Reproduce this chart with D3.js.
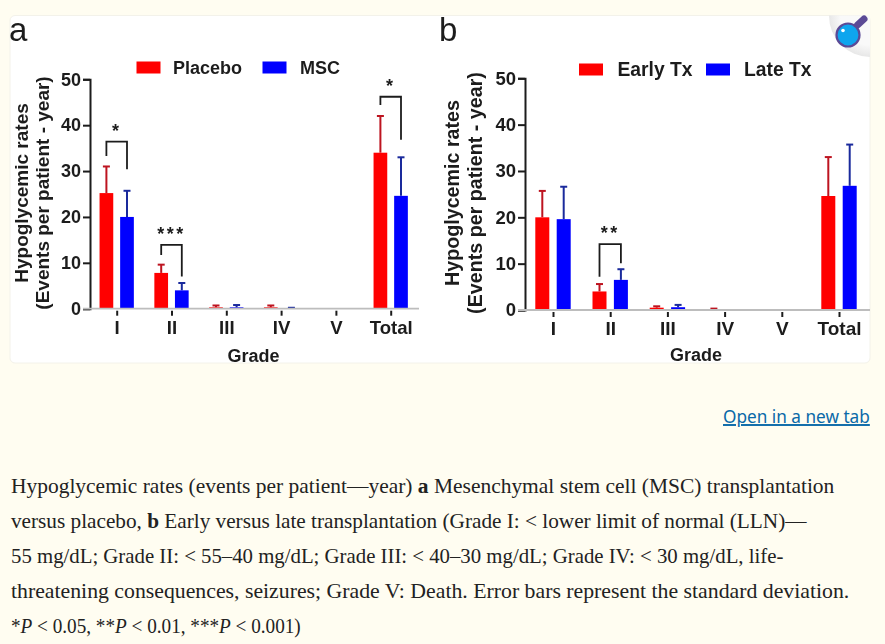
<!DOCTYPE html>
<html>
<head>
<meta charset="utf-8">
<script src="https://cdn.jsdelivr.net/npm/d3@7"></script>
<style>
  html, body { margin: 0; padding: 0; background: #fffdf1; overflow: hidden; }
  svg { display: block; }
  text { font-family: "Liberation Sans", Arial, sans-serif; fill: #1c1c1c; }
  .panel { filter: blur(0.4px); }
  .tick-label, .axis-title, .legend-label { font-weight: bold; }
  text.caption-line { font-family: "Liberation Serif", serif; font-size: 22px; fill: #222; }
</style>
</head>
<body>
<div id="chart"></div>
<script>
const grades = ["I", "II", "III", "IV", "V", "Total"];
const yTicks = [0, 10, 20, 30, 40, 50];

// panel a
const placeboMean = [25.2, 7.8, 0.3, 0.3, 0, 34];
const placeboTop = [31, 9.6, 0.7, 0.7, 0, 42];
const mscMean = [20, 4, 0.3, 0.1, 0, 24.6];
const mscTop = [25.7, 5.6, 0.8, 0.2, 0, 33];
const bracketsA = [
  { grade: "I", top: 36.4, left: 33.3, right: 30.4, label: "*" },
  { grade: "II", top: 13.9, left: 11.7, right: 7, label: "***" },
  { grade: "Total", top: 46.2, left: 44.4, right: 36.8, label: "*" }
];

// panel b
const earlyMean = [20, 4, 0.5, 0.2, 0, 24.6];
const earlyTop = [25.7, 5.6, 0.8, 0.3, 0, 33];
const lateMean = [19.6, 6.5, 0.6, 0, 0, 26.8];
const lateTop = [26.6, 8.8, 1.1, 0, 0, 35.7];
const bracketsB = [
  { grade: "II", top: 14.2, left: 7.2, right: 10.1, label: "**" }
];

const captionLines = [
  [["Hypoglycemic rates (events per patient—year) "], ["a", "b"], [" Mesenchymal stem cell (MSC) transplantation"]],
  [["versus placebo, "], ["b", "b"], [" Early versus late transplantation (Grade I: < lower limit of normal (LLN)—"]],
  [["55 mg/dL; Grade II: < 55–40 mg/dL; Grade III: < 40–30 mg/dL; Grade IV: < 30 mg/dL, life-"]],
  [["threatening consequences, seizures; Grade V: Death. Error bars represent the standard deviation."]],
  [["*"], ["P", "i"], [" < 0.05, **"], ["P", "i"], [" < 0.01, ***"], ["P", "i"], [" < 0.001)"]]
];
const captionWidths = [824, 796, 773, 839, 290];

const RED = "#ff0000", BLUE = "#0000ff";
const RED_ERR = "#bd1420", BLUE_ERR = "#1a2a9c";
const SANS = '"Liberation Sans", Arial, sans-serif';

const svg = d3.select("#chart").append("svg")
  .attr("width", 885)
  .attr("height", 644);

// card behind both panels
svg.append("rect")
  .attr("x", 10).attr("y", 15.5)
  .attr("width", 860).attr("height", 347.5)
  .attr("rx", 5)
  .attr("fill", "#ffffff")
  .attr("stroke", "#f3f2ea");

function drawPanel(cfg) {
  const g = svg.append("g").attr("class", "panel");

  const x = d3.scalePoint().domain(grades).range(cfg.xRange);
  const y = d3.scaleLinear().domain([0, 50]).range(cfg.yRange);
  const off = d3.scalePoint().domain([0, 1]).range([-cfg.barOffset, cfg.barOffset]);

  cfg.series.forEach((s, si) => {
    const rows = grades
      .map((grade, i) => ({ grade, mean: s.mean[i], top: s.top[i] }))
      .filter(d => d.mean > 0);

    const cx = d => x(d.grade) + off(si);

    g.selectAll(null).data(rows).join("line")
      .attr("x1", cx).attr("x2", cx)
      .attr("y1", d => y(d.mean)).attr("y2", d => y(d.top))
      .attr("stroke", s.errColor).attr("stroke-width", 2);

    g.selectAll(null).data(rows).join("line")
      .attr("x1", d => cx(d) - 3.5).attr("x2", d => cx(d) + 3.5)
      .attr("y1", d => y(d.top)).attr("y2", d => y(d.top))
      .attr("stroke", s.errColor).attr("stroke-width", 2);

    g.selectAll(null).data(rows).join("rect")
      .attr("x", d => cx(d) - cfg.barWidth / 2)
      .attr("width", cfg.barWidth)
      .attr("y", d => y(d.mean))
      .attr("height", d => y(0) - y(d.mean))
      .attr("fill", s.color);
  });

  // y axis
  const yAxis = g.append("g")
    .attr("transform", `translate(${cfg.axisX},0)`)
    .call(d3.axisLeft(y).tickValues(yTicks).tickSize(7).tickPadding(2));
  yAxis.selectAll("path, line").attr("stroke", "#1c1c1c").attr("stroke-width", 2);
  yAxis.selectAll("text")
    .attr("class", "tick-label")
    .style("font-size", cfg.tickSize + "px")
    .style("font-family", SANS);

  // x axis, the baseline is paler than the ticks in the source
  const xAxis = g.append("g")
    .attr("transform", `translate(0,${y(0)})`)
    .call(d3.axisBottom(x).tickSize(0).tickPadding(12));
  xAxis.select("path").remove();
  xAxis.append("line")
    .attr("x1", cfg.baseline[0]).attr("x2", cfg.baseline[1])
    .attr("stroke", "#bdbdbd").attr("stroke-width", 1.8);
  xAxis.selectAll(".tick line")
    .attr("y1", 2).attr("y2", 7)
    .attr("stroke", "#1c1c1c").attr("stroke-width", 2);
  xAxis.selectAll("text")
    .attr("class", "tick-label")
    .attr("fill", "#1c1c1c")
    .style("font-size", cfg.xTickSize + "px")
    .style("font-family", SANS);

  // significance brackets
  cfg.brackets.forEach(b => {
    const x0 = x(b.grade) + off(0);
    const x1 = x(b.grade) + off(1);
    g.append("path")
      .attr("d", `M${x0},${y(b.left)}V${y(b.top)}H${x1}V${y(b.right)}`)
      .attr("fill", "none")
      .attr("stroke", "#1c1c1c")
      .attr("stroke-width", 1.8);
    g.append("text")
      .attr("x", (x0 + x1) / 2)
      .attr("y", y(b.top) - 5)
      .attr("text-anchor", "middle")
      .style("font-size", "18px")
      .style("font-weight", "bold")
      .attr("letter-spacing", 2.5)
      .text(b.label);
  });

  // legend
  cfg.legend.forEach(l => {
    g.append("rect")
      .attr("x", l.x).attr("y", cfg.legendY - 6)
      .attr("width", 24).attr("height", 12)
      .attr("fill", l.color);
    g.append("text")
      .attr("class", "legend-label")
      .attr("x", l.textX).attr("y", cfg.legendY)
      .attr("dy", "0.35em")
      .style("font-size", cfg.legendSize + "px")
      .text(l.label);
  });

  // axis titles
  const yTitle = g.append("text")
    .attr("class", "axis-title")
    .attr("transform", `translate(${cfg.titleX},${cfg.titleY}) rotate(-90)`)
    .attr("text-anchor", "middle")
    .style("font-size", cfg.titleSize + "px");
  yTitle.append("tspan").attr("x", 0).attr("y", 0).text("Hypoglycemic rates");
  yTitle.append("tspan").attr("x", 0).attr("y", cfg.titleGap).text("(Events per patient - year)");

  g.append("text")
    .attr("class", "axis-title")
    .attr("x", cfg.gradeX).attr("y", cfg.gradeY)
    .attr("dy", "0.35em")
    .attr("text-anchor", "middle")
    .style("font-size", "18px")
    .text("Grade");

  g.append("text")
    .attr("x", cfg.letterX).attr("y", 41)
    .style("font-size", "33px")
    .text(cfg.letter);
}

drawPanel({
  letter: "a", letterX: 9,
  xRange: [116.7, 390.7], yRange: [308.7, 79.3],
  barOffset: 10.3, barWidth: 13.7, axisX: 90, baseline: [83, 419],
  series: [
    { mean: placeboMean, top: placeboTop, color: RED, errColor: RED_ERR },
    { mean: mscMean, top: mscTop, color: BLUE, errColor: BLUE_ERR }
  ],
  brackets: bracketsA,
  legendY: 67.5, legendSize: 18,
  legend: [
    { x: 136.5, textX: 173, label: "Placebo", color: RED },
    { x: 262.5, textX: 300, label: "MSC", color: BLUE }
  ],
  tickSize: 18, xTickSize: 18.6,
  titleX: 28, titleY: 193, titleGap: 21, titleSize: 19,
  gradeX: 253.5, gradeY: 356
});

drawPanel({
  letter: "b", letterX: 439,
  xRange: [553, 839], yRange: [310, 78.3],
  barOffset: 10.7, barWidth: 14, axisX: 525, baseline: [518, 870],
  series: [
    { mean: earlyMean, top: earlyTop, color: RED, errColor: RED_ERR },
    { mean: lateMean, top: lateTop, color: BLUE, errColor: BLUE_ERR }
  ],
  brackets: bracketsB,
  legendY: 69.5, legendSize: 19.3,
  legend: [
    { x: 579, textX: 617.5, label: "Early Tx", color: RED },
    { x: 706, textX: 744, label: "Late Tx", color: BLUE }
  ],
  tickSize: 18.5, xTickSize: 19,
  titleX: 459, titleY: 193, titleGap: 23, titleSize: 19.7,
  gradeX: 696, gradeY: 355
});

// zoom badge in the corner of the card
const badgeFill = svg.append("defs").append("radialGradient")
  .attr("id", "badge-fill")
  .attr("gradientUnits", "userSpaceOnUse")
  .attr("cx", 870).attr("cy", 15.5).attr("r", 42);
badgeFill.append("stop").attr("offset", "0.7").attr("stop-color", "#f9f9f9");
badgeFill.append("stop").attr("offset", "1").attr("stop-color", "#e6e6e6");

const badge = svg.append("g");
badge.append("path")
  .attr("d", "M829,15.5A41,41.5 0 0 0 870,57V15.5Z")
  .attr("fill", "url(#badge-fill)");
badge.append("line")
  .attr("x1", 857.5).attr("y1", 25).attr("x2", 864).attr("y2", 19)
  .attr("stroke", "#5b4a96").attr("stroke-width", 7).attr("stroke-linecap", "round");
badge.append("circle")
  .attr("cx", 848).attr("cy", 35).attr("r", 11.5)
  .attr("fill", "#0ea5ee").attr("stroke", "#5b4a96").attr("stroke-width", 2.2);
badge.append("circle")
  .attr("cx", 843).attr("cy", 30.5).attr("r", 1.8)
  .attr("fill", "#ffffff");

// squeeze a text to the measured line width of the source
function fitWidth(t, left, baseline, width) {
  const k = width / t.node().getComputedTextLength();
  t.attr("transform", `translate(${left},${baseline}) scale(${k},1)`);
}

// link and caption
const link = svg.append("text")
  .style("font-family", '"Noto Sans", sans-serif')
  .style("font-size", "19px")
  .style("fill", "#0a69a8")
  .style("text-decoration", "underline")
  .text("Open in a new tab");
fitWidth(link, 723, 423, 147);

captionLines.forEach((parts, i) => {
  const t = svg.append("text").attr("class", "caption-line");
  parts.forEach(([str, style]) => {
    t.append("tspan")
      .style("font-weight", style === "b" ? "bold" : null)
      .style("font-style", style === "i" ? "italic" : null)
      .text(str);
  });
  fitWidth(t, 11, 493 + i * 35.1, captionWidths[i]);
});
</script>
</body>
</html>
